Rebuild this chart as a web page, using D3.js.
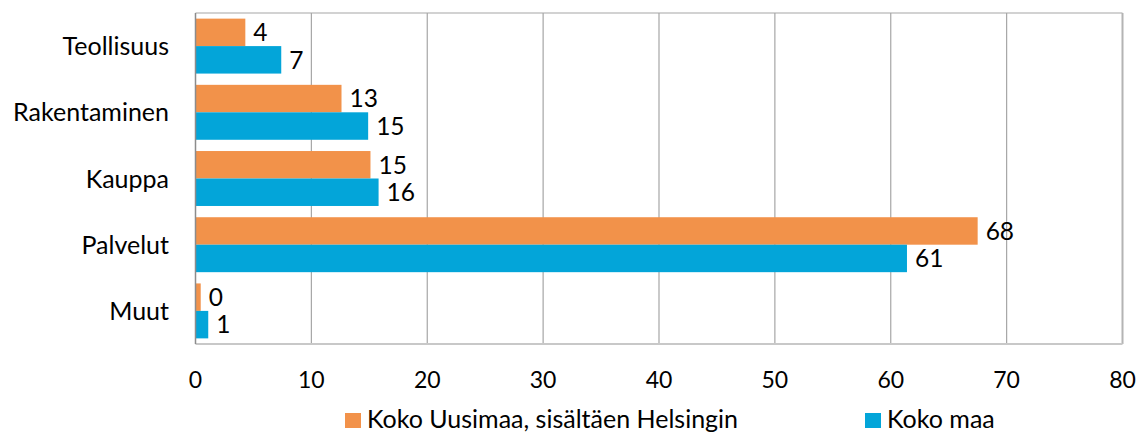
<!DOCTYPE html>
<html>
<head>
<meta charset="utf-8">
<script src="https://cdn.jsdelivr.net/npm/d3@7"></script>
<style>
  body { margin: 0; background: #fff; }
  svg text { font-family: Lato, "Open Sans", sans-serif; fill: #000; }
</style>
</head>
<body>
<svg id="chart" width="1141" height="432"></svg>
<script>
// data
const categories = ["Teollisuus", "Rakentaminen", "Kauppa", "Palvelut", "Muut"];
const seriesNames = ["Koko Uusimaa, sisältäen Helsingin", "Koko maa"];
const uusimaa = [4.3, 12.6, 15.1, 67.5, 0.45];
const kokoMaa = [7.4, 14.9, 15.8, 61.4, 1.1];
const xTicks = [0, 10, 20, 30, 40, 50, 60, 70, 80];
const colors = ["#F2924A", "#03A5D9"];

let margin = {top: 13, right: 18.5, bottom: 88, left: 195.5};
let width = 1141, height = 432;
let svg = d3.select("#chart");

let xScale = d3.scaleLinear()
    .domain([0, 80])
    .range([margin.left, width - margin.right]);

let yScale = d3.scaleBand()
    .domain(categories)
    .range([margin.top, height - margin.bottom])
    .paddingInner(0.17)
    .paddingOuter(0.085);

let subScale = d3.scaleBand()
    .domain([0, 1])
    .range([0, yScale.bandwidth()]);

// gridlines
svg.append("g").selectAll("line")
    .data(xTicks.slice(1, -1))
    .enter().append("line")
    .attr("x1", d => xScale(d)).attr("x2", d => xScale(d))
    .attr("y1", margin.top).attr("y2", height - margin.bottom)
    .style("stroke", "#a6a6a6").style("stroke-width", 1.2);

// plot border
svg.append("line")
    .attr("x1", margin.left).attr("x2", width - margin.right)
    .attr("y1", margin.top).attr("y2", margin.top)
    .style("stroke", "#a6a6a6").style("stroke-width", 1.2);
svg.append("line")
    .attr("x1", width - margin.right).attr("x2", width - margin.right)
    .attr("y1", margin.top).attr("y2", height - margin.bottom)
    .style("stroke", "#b4b4b4").style("stroke-width", 2);

let rows = categories.map(function(c, i) {
    return {cat: c, values: [uusimaa[i], kokoMaa[i]]};
});

let groups = svg.append("g").selectAll("g")
    .data(rows)
    .enter().append("g")
    .attr("transform", d => "translate(0," + yScale(d.cat) + ")");

groups.selectAll("rect")
    .data(d => d.values)
    .enter().append("rect")
    .attr("x", xScale(0))
    .attr("y", (d, i) => subScale(i))
    .attr("width", d => xScale(d) - xScale(0))
    .attr("height", subScale.bandwidth())
    .style("fill", (d, i) => colors[i]);

groups.selectAll("text")
    .data(d => d.values)
    .enter().append("text")
    .attr("x", d => xScale(d) + 8)
    .attr("y", (d, i) => subScale(i) + subScale.bandwidth() / 2)
    .attr("dy", "0.36em")
    .style("font-size", "24.5px")
    .text(d => d3.format(".0f")(d));

// bottom and left axis lines
svg.append("line")
    .attr("x1", margin.left).attr("x2", width - margin.right)
    .attr("y1", height - margin.bottom).attr("y2", height - margin.bottom)
    .style("stroke", "#c8c8c8").style("stroke-width", 2);
svg.append("line")
    .attr("x1", margin.left).attr("x2", margin.left)
    .attr("y1", margin.top).attr("y2", height - margin.bottom)
    .style("stroke", "#8c8c8c").style("stroke-width", 1.5);

// x tick labels
svg.append("g").selectAll("text")
    .data(xTicks)
    .enter().append("text")
    .attr("x", d => xScale(d))
    .attr("y", 388)
    .attr("text-anchor", "middle")
    .style("font-size", "23px")
    .text(d => d);

// category labels
svg.append("g").selectAll("text")
    .data(categories)
    .enter().append("text")
    .attr("x", 169)
    .attr("y", d => yScale(d) + yScale.bandwidth() / 2)
    .attr("dy", "0.36em")
    .attr("text-anchor", "end")
    .style("font-size", "25px")
    .text(d => d);

// legend
let legendX = [345, 865];
let legend = svg.append("g").selectAll("g")
    .data(seriesNames)
    .enter().append("g")
    .attr("transform", (d, i) => "translate(" + legendX[i] + ",413)");
legend.append("rect")
    .attr("width", 16).attr("height", 15)
    .style("fill", (d, i) => colors[i]);
legend.append("text")
    .attr("x", 22).attr("y", 15)
    .style("font-size", "25px")
    .text(d => d);
</script>
</body>
</html>
